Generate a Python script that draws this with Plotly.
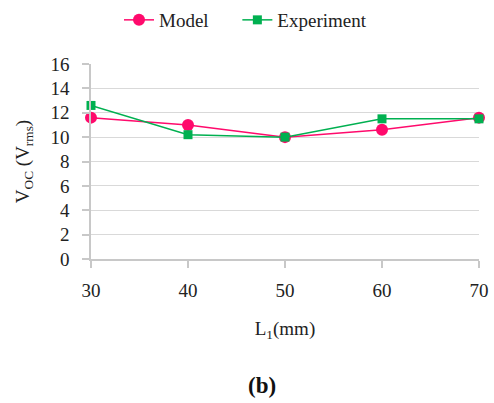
import plotly.graph_objects as go

x_vals = [30, 40, 50, 60, 70]
model = [11.6, 11.0, 10.0, 10.6, 11.6]
experiment = [12.6, 10.2, 10.0, 11.5, 11.5]
y_ticks = [0, 2, 4, 6, 8, 10, 12, 14, 16]

FONT = "'Liberation Serif', 'Times New Roman', serif"
FS = 19
PINK = "#FF0A6C"
GREEN = "#00B050"

fig = go.Figure()
fig.add_trace(go.Scatter(x=x_vals, y=model, name="Model" + "\u00a0" * 5, mode="lines+markers",
                         line=dict(color=PINK, width=1.5),
                         marker=dict(symbol="circle", size=12, color=PINK),
                         cliponaxis=False))
fig.add_trace(go.Scatter(x=x_vals, y=experiment, name="Experiment", mode="lines+markers",
                         line=dict(color=GREEN, width=1.5),
                         marker=dict(symbol="square", size=9, color=GREEN),
                         cliponaxis=False))

H_PLOT = 403 - 64 - 144

fig.update_layout(
    width=494, height=403,
    margin=dict(l=91, r=15, t=64, b=144, autoexpand=False),
    paper_bgcolor="white", plot_bgcolor="white",
    font=dict(family=FONT, size=FS, color="#222222"),
    showlegend=True,
    legend=dict(orientation="h", x=(119 - 91) / 388, xanchor="left",
                y=1 + 44 / H_PLOT, yanchor="middle", font=dict(size=FS, family=FONT)),
    xaxis=dict(range=[30, 70], tickvals=x_vals, ticktext=[str(v) for v in x_vals],
               showgrid=False, showline=True, linecolor="#C8C8C8", linewidth=1.5,
               ticks="outside", ticklen=7, tickcolor="#C8C8C8", tickwidth=1.5,
               zeroline=False, tickfont=dict(size=FS, family=FONT), automargin=False,
               ticklabelstandoff=6,
               title=dict(text="L<sub>1</sub>(mm)", font=dict(size=FS, family=FONT), standoff=22)),
    yaxis=dict(range=[0, 16], tickvals=y_ticks, showgrid=True, gridcolor="#D9D9D9",
               gridwidth=1, showline=True, linecolor="#C8C8C8", linewidth=1.5,
               ticks="outside", ticklen=7, tickcolor="#C8C8C8", tickwidth=1.5,
               zeroline=False, tickfont=dict(size=FS, family=FONT), automargin=False,
               ticklabelstandoff=9,
               title=dict(text="V<sub>OC</sub> (V<sub>rms</sub>)", font=dict(size=FS, family=FONT), standoff=16)),
)
fig.add_annotation(text="<b>(b)</b>", xref="paper", yref="paper", x=(262 - 91) / 388,
                   y=-(385 - 259) / H_PLOT,
                   xanchor="center", yanchor="middle", showarrow=False,
                   font=dict(size=23, family=FONT, color="#111111"))

fig.write_html("out.html", config={"displayModeBar": False},
               post_script="document.body.style.margin='0';document.body.style.overflow='hidden';")
